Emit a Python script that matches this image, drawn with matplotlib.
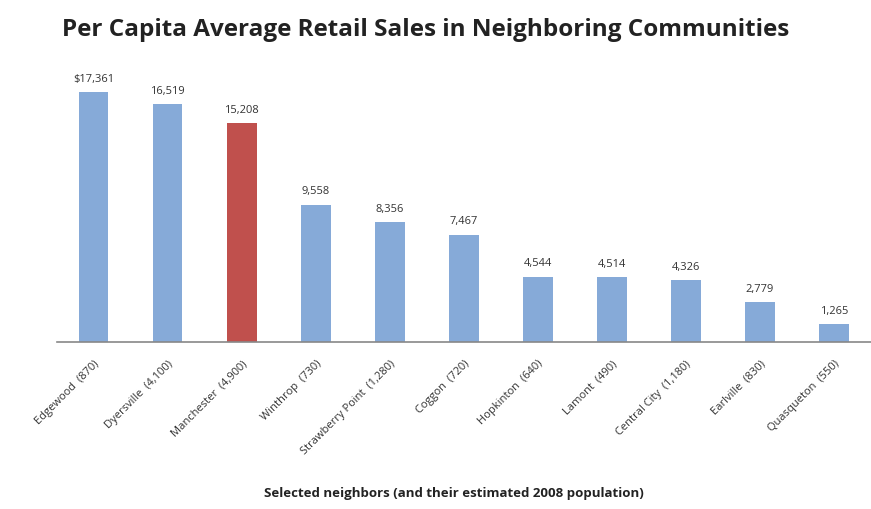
import matplotlib
matplotlib.use("Agg")
import matplotlib.pyplot as plt

# Data
towns = ["Edgewood", "Dyersville", "Manchester", "Winthrop", "Strawberry Point",
         "Coggon", "Hopkinton", "Lamont", "Central City", "Earlville", "Quasqueton"]
populations = ["870", "4,100", "4,900", "730", "1,280",
               "720", "640", "490", "1,180", "830", "550"]
sales = [17361, 16519, 15208, 9558, 8356, 7467, 4544, 4514, 4326, 2779, 1265]
value_labels = ["$17,361", "16,519", "15,208", "9,558", "8,356", "7,467",
                "4,544", "4,514", "4,326", "2,779", "1,265"]
highlight = "Manchester"

BLUE = "#86aad8"
RED = "#c0504d"

plt.rcParams["font.family"] = ["Open Sans", "DejaVu Sans"]

fig = plt.figure(figsize=(8.71, 5.10), dpi=100)
ax = fig.add_axes([0.065, 0.327, 0.935, 0.565])

x = range(len(towns))
colors = [RED if t == highlight else BLUE for t in towns]
ax.bar(x, sales, width=0.4, color=colors, zorder=2)

for xi, v, lab in zip(x, sales, value_labels):
    ax.annotate(lab, (xi, v), xytext=(0, 6), textcoords="offset points",
                ha="center", va="bottom", fontsize=8, color="#333333")

ax.set_xlim(-0.5, 10.5)
ax.set_ylim(0, 20000)
ax.set_xticks(list(x))
ax.set_xticklabels([f"{t}  ({p})" for t, p in zip(towns, populations)],
                   rotation=45, ha="right", rotation_mode="anchor",
                   fontsize=8, color="#333333")
ax.tick_params(axis="x", length=0, pad=11)
ax.set_yticks([])
for side in ["top", "right", "left"]:
    ax.spines[side].set_visible(False)
ax.spines["bottom"].set_color("#888888")
ax.spines["bottom"].set_linewidth(1.2)

fig.text(0.071, 0.941, "Per Capita Average Retail Sales in Neighboring Communities",
         fontsize=17.5, fontweight="bold", color="#222222", ha="left", va="center")
fig.text(0.521, 0.033, "Selected neighbors (and their estimated 2008 population)",
         fontsize=9.5, fontweight="bold", color="#222222", ha="center", va="center")

fig.savefig("out.png", dpi=100, facecolor="white")
